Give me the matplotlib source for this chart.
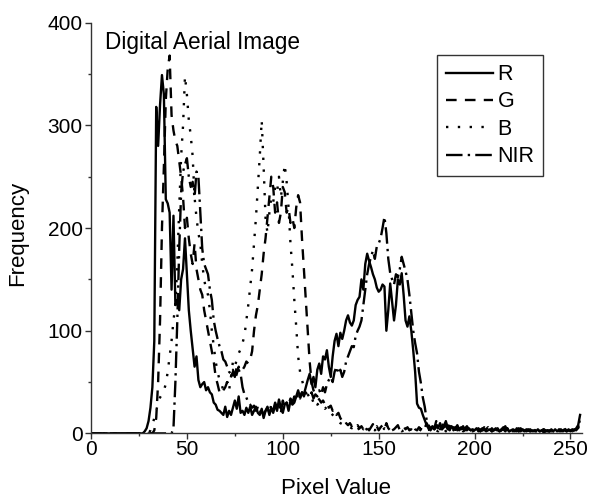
import matplotlib
matplotlib.use('Agg')
import matplotlib.pyplot as plt
import numpy as np

plt.rcParams['font.family'] = ['Liberation Sans', 'DejaVu Sans']

pixel_value = np.arange(256)

# frequencies, pixel values 0..255
freq_R = [
    0, 0, 0, 0, 0, 0, 0, 0, 0, 0,
    0, 0, 0, 0, 0, 0, 0, 0, 0, 0,
    0, 0, 0, 0, 0, 0, 0, 0, 2, 5,
    12, 25, 45, 90, 318, 280, 320, 349, 330, 228,
    224, 215, 140, 212, 125, 130, 120, 150, 160, 190,
    155, 120, 100, 82, 65, 75, 52, 45, 48, 50,
    42, 45, 40, 38, 30, 28, 23, 22, 20, 18,
    26, 16, 22, 18, 25, 32, 24, 36, 20, 22,
    18, 25, 20, 26, 18, 22, 26, 20, 18, 24,
    15, 22, 26, 18, 25, 20, 28, 22, 33, 25,
    20, 28, 30, 22, 32, 28, 30, 36, 42, 35,
    40, 38, 45, 52, 58, 48, 55, 45, 62, 68,
    58, 75, 72, 81, 65, 55, 75, 90, 97, 85,
    98, 92, 100, 110, 115, 108, 105, 110, 125, 130,
    133, 150, 140, 165, 175, 168, 162, 155, 150, 142,
    138, 140, 145, 143, 100, 120, 146, 128, 110, 125,
    150, 145, 156, 135, 110, 104, 114, 100, 81, 60,
    29, 25, 24, 18, 13, 8, 5, 3, 6, 4,
    8, 5, 10, 4, 6, 12, 5, 3, 7, 4,
    6, 3, 5, 4, 7, 3, 4, 5, 3, 4,
    3, 5, 2, 4, 3, 5, 2, 3, 4, 2,
    3, 5, 3, 2, 4, 6, 3, 5, 2, 3,
    4, 2, 5, 3, 2, 4, 3, 2, 3, 4,
    2, 3, 2, 4, 2, 3, 1, 2, 3, 2,
    3, 2, 4, 2, 3, 2, 3, 4, 2, 3,
    3, 4, 3, 5, 8, 18]

freq_G = [
    0, 0, 0, 0, 0, 0, 0, 0, 0, 0,
    0, 0, 0, 0, 0, 0, 0, 0, 0, 0,
    0, 0, 0, 0, 0, 0, 0, 0, 0, 0,
    0, 0, 0, 3, 15, 50, 110, 200, 260, 325,
    355, 368, 310, 295, 285, 280, 265, 250, 230, 200,
    210, 190, 175, 165, 185, 160, 150, 140, 135, 120,
    110, 100, 90, 80, 70, 55, 48, 40, 38, 42,
    45, 50, 48, 55, 60, 52, 58, 65, 60, 62,
    65, 70, 68, 72, 80, 100, 115, 125, 140, 155,
    175, 190, 210, 230, 250, 240, 215, 225, 205, 215,
    240, 235, 215, 220, 205, 210, 200, 220, 232, 225,
    190, 160, 130, 100, 70, 50, 42, 38, 35, 33,
    30, 32, 28, 30, 25, 27, 22, 24, 18, 20,
    15, 12, 14, 10, 8, 10, 7, 9, 6, 8,
    5, 7, 4, 8, 5, 3, 6, 9, 4, 7,
    3, 6, 8, 4, 10, 5, 3, 7, 4, 6,
    8, 3, 5, 7, 4, 6, 3, 5, 8, 4,
    3, 6, 4, 8, 5, 10, 6, 4, 9, 5,
    12, 6, 8, 4, 14, 7, 5, 9, 4, 6,
    5, 8, 4, 6, 3, 5, 7, 4, 3, 5,
    4, 3, 5, 2, 4, 6, 3, 4, 2, 5,
    3, 4, 2, 5, 3, 4, 7, 3, 5, 2,
    4, 3, 2, 5, 3, 4, 2, 3, 4, 2,
    3, 2, 4, 2, 3, 2, 4, 3, 2, 3,
    2, 4, 3, 2, 3, 4, 2, 3, 5, 2,
    3, 2, 4, 3, 6, 15]

freq_B = [
    0, 0, 0, 0, 0, 0, 0, 0, 0, 0,
    0, 0, 0, 0, 0, 0, 0, 0, 0, 0,
    0, 0, 0, 0, 0, 0, 0, 0, 0, 0,
    0, 3, 8, 15, 22, 30, 35, 38, 42, 48,
    60, 75, 90, 110, 125, 165, 220, 270, 300, 348,
    330, 305, 290, 270, 230, 210, 195, 185, 165, 150,
    140, 135, 120, 100, 85, 70, 60, 52, 48, 42,
    45, 50, 42, 55, 70, 65, 72, 78, 82, 88,
    95, 110, 125, 143, 160, 185, 210, 240, 270, 305,
    260, 210, 195, 215, 230, 225, 240, 235, 250, 230,
    245, 262, 245, 220, 185, 160, 130, 104, 75, 60,
    52, 45, 40, 36, 34, 35, 30, 33, 28, 30,
    29, 27, 24, 26, 22, 20, 18, 16, 14, 12,
    10, 9, 8, 8, 7, 6, 5, 7, 4, 6,
    3, 5, 4, 6, 3, 2, 5, 4, 3, 5,
    4, 2, 3, 5, 3, 4, 2, 3, 4, 2,
    3, 4, 2, 3, 5, 2, 3, 4, 2, 3,
    2, 4, 3, 2, 5, 3, 4, 2, 3, 5,
    3, 2, 4, 3, 5, 2, 3, 4, 2, 3,
    4, 2, 3, 5, 2, 3, 4, 2, 3, 2,
    3, 2, 4, 2, 3, 4, 2, 3, 2, 4,
    2, 3, 2, 4, 3, 2, 5, 3, 2, 3,
    2, 4, 3, 2, 3, 2, 4, 2, 3, 2,
    3, 2, 2, 3, 2, 4, 2, 3, 2, 2,
    3, 2, 3, 2, 2, 3, 2, 4, 2, 3,
    2, 3, 2, 4, 5, 12]

freq_NIR = [
    0, 0, 0, 0, 0, 0, 0, 0, 0, 0,
    0, 0, 0, 0, 0, 0, 0, 0, 0, 0,
    0, 0, 0, 0, 0, 0, 0, 0, 0, 0,
    0, 0, 0, 0, 0, 0, 0, 0, 0, 0,
    0, 0, 0, 5, 50, 110, 180, 235, 255, 262,
    268, 250, 240, 245, 230, 255, 250, 215, 180, 165,
    160, 155, 140, 130, 110, 100, 92, 85, 80, 72,
    70, 65, 60, 58, 62, 55, 65, 62, 58, 45,
    38, 35, 30, 28, 25, 27, 22, 25, 20, 24,
    18, 22, 25, 20, 28, 22, 30, 25, 28, 20,
    32, 26, 30, 28, 34, 30, 36, 32, 38, 34,
    40, 36, 42, 38, 35, 40, 34, 38, 36, 42,
    38, 45, 40, 48, 52, 55, 50, 60, 65, 58,
    62, 55, 60, 70, 75, 80, 85, 84, 95, 100,
    104, 110, 125, 140, 155, 165, 172, 178, 170, 182,
    185, 190, 200, 211, 195, 170, 156, 150, 145, 155,
    152, 160, 172, 165, 158, 150, 135, 117, 100, 88,
    78, 60, 49, 35, 26, 13, 8, 5, 7, 4,
    6, 9, 4, 7, 5, 10, 4, 6, 8, 3,
    5, 7, 3, 6, 4, 5, 3, 6, 4, 3,
    5, 3, 4, 2, 5, 3, 4, 6, 3, 2,
    4, 3, 5, 2, 3, 4, 2, 5, 3, 4,
    2, 3, 4, 2, 5, 3, 2, 4, 3, 2,
    3, 4, 2, 3, 2, 3, 4, 2, 3, 2,
    4, 2, 3, 2, 4, 3, 2, 3, 2, 4,
    2, 3, 3, 4, 6, 14]

fig = plt.figure(figsize=(5.91, 4.98), dpi=100)
ax = fig.add_axes([91/591, 1-433.4/498, (582-91)/591, (433.4-22.7)/498])

lw = 1.7
ax.plot(pixel_value, freq_R, color='black', lw=lw, ls='-', label='R')
ax.plot(pixel_value, freq_G, color='black', lw=lw, ls=(0, (4.5, 3.5)), label='G')
ax.plot(pixel_value, freq_B, color='black', lw=lw, ls=(0, (1, 4)), label='B')
ax.plot(pixel_value, freq_NIR, color='black', lw=lw, ls=(0, (7, 2.2, 1, 2.2)), label='NIR')

ax.set_xlim(0, 256)
ax.set_ylim(0, 400)
ax.set_xticks([0, 50, 100, 150, 200, 250])
ax.set_xticks(np.arange(25, 256, 50), minor=True)
ax.set_yticks([0, 100, 200, 300, 400])
ax.set_yticks([50, 150, 250, 350], minor=True)
ax.tick_params(which='major', length=4, width=1, labelsize=15, pad=2, colors='#333333', labelcolor='black')
ax.tick_params(axis='x', which='major', pad=0.8)
ax.tick_params(which='minor', length=2.5, width=1, colors='#333333')
for s in ['top', 'right']:
    ax.spines[s].set_visible(False)
for s in ['left', 'bottom']:
    ax.spines[s].set_color('#333333')
    ax.spines[s].set_linewidth(1)

fig.text(105/591, 1-42.7/498, 'Digital Aerial Image', ha='left', va='center', fontsize=16.3)
fig.text(336/591, 1-488/498, 'Pixel Value', ha='center', va='center', fontsize=16)
fig.text(18/591, 1-233/498, 'Frequency', ha='center', va='center', rotation='vertical', fontsize=16)

leg = ax.legend(loc='upper left', bbox_to_anchor=(436.7/591, 1-55/498), bbox_transform=fig.transFigure,
                fontsize=15.5, handlelength=2.2, handletextpad=0.2, labelspacing=0.3,
                borderpad=0.42, borderaxespad=0, fancybox=False, framealpha=1)
leg.get_frame().set_edgecolor('#333333')
leg.get_frame().set_linewidth(1)

plt.savefig('out.png', dpi=100)
